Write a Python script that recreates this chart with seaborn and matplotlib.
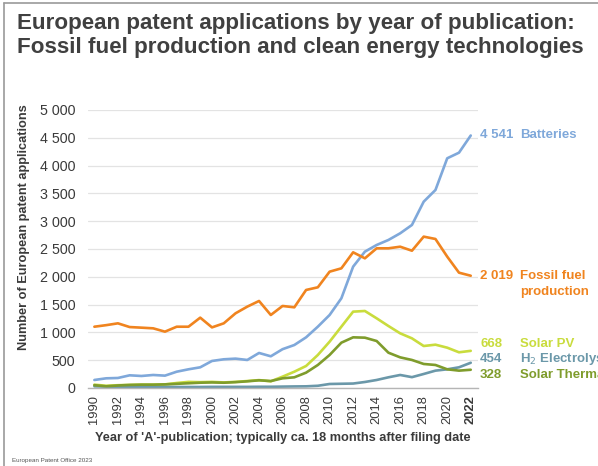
import numpy as np
import pandas as pd
import seaborn as sns
import matplotlib.pyplot as plt
from matplotlib.ticker import FuncFormatter
from matplotlib.lines import Line2D

# ==========================================
# 1. DATA
# ==========================================
years = list(range(1990, 2023))

batteries = [144, 174, 180, 228, 216, 234, 222, 293, 336, 372, 486, 516, 528, 504, 630, 570,
             698, 773, 911, 1103, 1313, 1613, 2182, 2452, 2572, 2662, 2782, 2932, 3351, 3561,
             4131, 4232, 4541]
fossil_fuel = [1102, 1130, 1163, 1096, 1085, 1073, 1013, 1102, 1102, 1265, 1090, 1163, 1343,
               1463, 1565, 1313, 1475, 1451, 1763, 1811, 2092, 2152, 2440, 2332, 2512, 2512,
               2541, 2469, 2722, 2680, 2362, 2074, 2019]
solar_pv = [60, 40, 50, 55, 60, 60, 65, 90, 110, 105, 110, 100, 110, 125, 142, 120,
            204, 293, 396, 594, 833, 1103, 1373, 1385, 1253, 1115, 983, 893, 755, 779,
            725, 642, 668]
h2_electrolysis = [30, 25, 20, 20, 20, 20, 20, 18, 18, 18, 20, 20, 20, 20, 22, 22,
                   25, 28, 30, 40, 72, 76, 80, 108, 144, 192, 234, 195, 252, 312,
                   336, 372, 454]
solar_thermal = [50, 30, 45, 55, 60, 60, 65, 75, 85, 95, 100, 95, 105, 120, 138, 125,
                 174, 192, 276, 414, 594, 815, 911, 905, 845, 635, 551, 504, 432, 414,
                 336, 312, 328]

series_names = ['Batteries', 'Fossil fuel\nproduction', 'Solar PV', 'H$_2$ Electrolysis', 'Solar Thermal']
series_values = [batteries, fossil_fuel, solar_pv, h2_electrolysis, solar_thermal]

# styling per series
colors = ['#7fa8da', '#f0841f', '#c9dc3d', '#6b98a9', '#7f9c2c']
label_y = [4541, 2019, 790, 520, 235]   # where the end labels sit (nudged to avoid overlap)

df = pd.DataFrame({'Year': years})
for name, vals in zip(series_names, series_values):
    df[name] = vals
long_df = df.melt(id_vars='Year', var_name='Technology', value_name='Applications')

# ==========================================
# 2. PLOT
# ==========================================
sns.set_style('white')
plt.rcParams['font.family'] = ['Liberation Sans', 'DejaVu Sans']

fig = plt.figure(figsize=(5.98, 4.66), dpi=100)
ax = fig.add_axes([0.147, 0.1674, 0.652, 0.5966])

sns.lineplot(data=long_df, x='Year', y='Applications', hue='Technology',
             palette=dict(zip(series_names, colors)), linewidth=1.9, legend=False, ax=ax)

ax.set_xlim(1989.45, 2022.6)
ax.set_ylim(0, 5000)
ax.set_yticks(np.arange(0, 5001, 500))
ax.yaxis.set_major_formatter(FuncFormatter(lambda v, p: f'{int(v):,}'.replace(',', ' ')))
ax.set_xticks(years[::2])
ax.set_xticklabels([str(y) for y in years[::2]], rotation=90)
ax.get_xticklabels()[-1].set_fontweight('bold')
ax.tick_params(axis='x', length=0, labelsize=9.3, labelcolor='#3a3a3a', pad=5)
ax.tick_params(axis='y', length=0, labelsize=10.3, labelcolor='#3a3a3a', pad=9)
ax.grid(axis='y', color='#e3e3e3', linewidth=0.9)
ax.set_axisbelow(True)
for side in ['top', 'right', 'left']:
    ax.spines[side].set_visible(False)
ax.spines['bottom'].set_color('#b5b5b5')
ax.spines['bottom'].set_linewidth(1.0)

ax.set_ylabel('Number of European patent applications', fontsize=9.2, fontweight='bold',
              color='#3a3a3a', labelpad=4)
ax.yaxis.set_label_coords(-0.148, 0.58)
ax.set_xlabel("Year of 'A'-publication; typically ca. 18 months after filing date",
              fontsize=9.2, fontweight='bold', color='#3a3a3a', labelpad=6)

# end-of-line labels: value then name (multi-line names stack downwards)
for name, vals, col, ly in zip(series_names, series_values, colors, label_y):
    ax.text(2022.8, ly, f'{vals[-1]:,}'.replace(',', ' '), color=col, fontsize=9.5,
            fontweight='bold', va='center', ha='left', clip_on=False)
    for i, line in enumerate(name.split('\n')):
        ax.annotate(line, xy=(2026.2, ly), xytext=(0, -11.5 * i), textcoords='offset points',
                    color=col, fontsize=9.5, fontweight='bold', va='center', ha='left',
                    annotation_clip=False)

# title and footer
fig.text(0.028, 0.972, 'European patent applications by year of publication:\n'
         'Fossil fuel production and clean energy technologies',
         fontsize=16.1, fontweight='bold', color='#404040', va='top', linespacing=1.2)
fig.text(0.02, 0.008, 'European Patent Office 2023', fontsize=4.5, color='#555555')

# frame lines on left and top of the slide
fig.add_artist(Line2D([0.007, 0.007], [0, 0.993], transform=fig.transFigure, color='#9a9a9a', lw=1.2))
fig.add_artist(Line2D([0.007, 1.0], [0.993, 0.993], transform=fig.transFigure, color='#9a9a9a', lw=1.2))

plt.savefig('out.png', dpi=100)
